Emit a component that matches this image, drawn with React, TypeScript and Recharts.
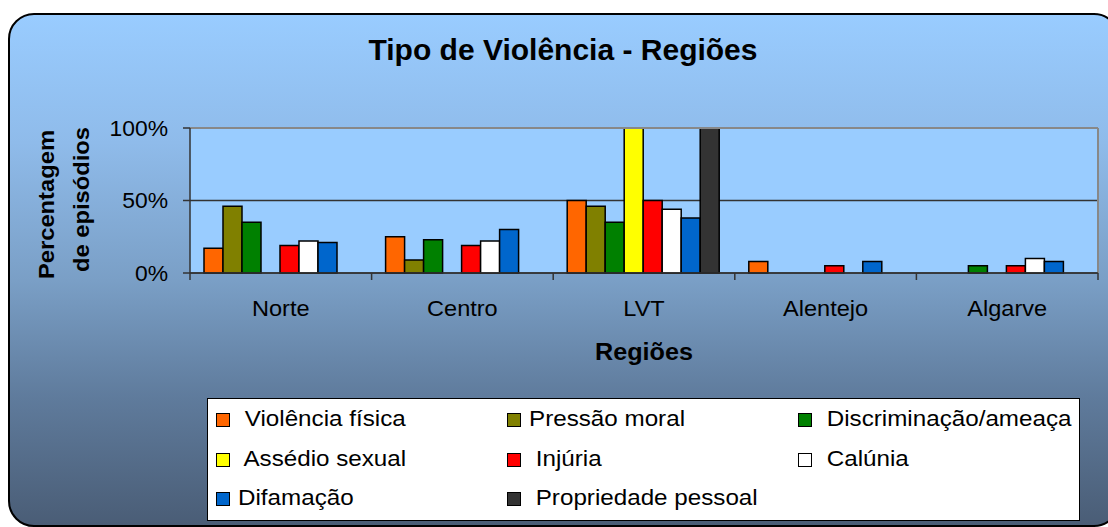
import { BarChart, Bar, XAxis, YAxis, CartesianGrid, ReferenceLine, Legend, Label } from 'recharts';

const REGIONS = ['Norte', 'Centro', 'LVT', 'Alentejo', 'Algarve'];

// share of episodes per region, one array per type of violence
const VIOLENCIA_FISICA = [0.17, 0.25, 0.5, 0.08, 0];
const PRESSAO_MORAL = [0.46, 0.09, 0.46, 0, 0];
const DISCRIMINACAO = [0.35, 0.23, 0.35, 0, 0.05];
const ASSEDIO_SEXUAL = [0, 0, 1, 0, 0];
const INJURIA = [0.19, 0.19, 0.5, 0.05, 0.05];
const CALUNIA = [0.22, 0.22, 0.44, 0, 0.1];
const DIFAMACAO = [0.21, 0.3, 0.38, 0.08, 0.08];
const PROPRIEDADE = [0, 0, 1, 0, 0];

const SERIES_KEYS = ['violencia', 'pressao', 'discriminacao', 'assedio', 'injuria', 'calunia', 'difamacao', 'propriedade'];
const SERIES_NAMES = [
  ' Violência física',
  'Pressão moral',
  ' Discriminação/ameaça',
  ' Assédio sexual',
  ' Injúria',
  ' Calúnia',
  'Difamação',
  ' Propriedade pessoal',
];
const SERIES_VALUES = [VIOLENCIA_FISICA, PRESSAO_MORAL, DISCRIMINACAO, ASSEDIO_SEXUAL, INJURIA, CALUNIA, DIFAMACAO, PROPRIEDADE];
const SERIES_COLORS = ['#ff6600', '#808000', '#008000', '#ffff00', '#ff0000', '#ffffff', '#0066cc', '#333333'];

const Y_TICKS = [0, 0.5, 1];

const FONT = '"Liberation Sans", Arial, sans-serif';

const chartData = REGIONS.map((region, i) => {
  const row: any = { region };
  SERIES_KEYS.forEach((key, s) => {
    row[key] = SERIES_VALUES[s][i];
  });
  return row;
});

// category labels, with the separator ticks between categories
function RegionTick({ x, y, payload }: any) {
  const half = payload?.offset ?? 0;
  const isLast = payload.value === REGIONS[REGIONS.length - 1];
  return (
    <g>
      <line x1={x - half} x2={x - half} y1={y} y2={y + 7} stroke="#333" strokeWidth={1.5} />
      {isLast && <line x1={x + half} x2={x + half} y1={y} y2={y + 7} stroke="#333" strokeWidth={1.5} />}
      <text
        transform={`translate(${x},${y + 43}) scale(1.07,1)`}
        textAnchor="middle"
        fontSize={22}
        fontFamily={FONT}
        fill="#000"
      >
        {payload.value}
      </text>
    </g>
  );
}

function PercentTick({ x, y, payload }: any) {
  return (
    <text
      transform={`translate(${x},${y}) scale(1.04,1)`}
      dy="0.355em"
      textAnchor="end"
      fontSize={22}
      fontFamily={FONT}
      fill="#000"
    >
      {Math.round(payload.value * 100)}%
    </text>
  );
}

function YTitle({ viewBox }: any) {
  const cy = viewBox.y + viewBox.height / 2;
  const x0 = viewBox.x;
  return (
    <g fontSize={22} fontWeight="bold" fontFamily={FONT} fill="#000">
      <text transform={`translate(${x0 + 54},${cy + 4}) rotate(-90) scale(1.08,1)`} textAnchor="middle">
        Percentagem
      </text>
      <text transform={`translate(${x0 + 89},${cy - 1}) rotate(-90) scale(1.08,1)`} textAnchor="middle">
        de episódios
      </text>
    </g>
  );
}

function XTitle({ viewBox }: any) {
  return (
    <text
      transform={`translate(${viewBox.x + viewBox.width / 2},${viewBox.y + 87}) scale(1.05,1)`}
      textAnchor="middle"
      fontSize={24}
      fontWeight="bold"
      fontFamily={FONT}
      fill="#000"
    >
      Regiões
    </text>
  );
}

function LegendBox() {
  return (
    <div
      style={{
        position: 'relative',
        width: 873,
        height: 123,
        boxSizing: 'border-box',
        border: '1px solid #000',
        background: '#fff',
        fontFamily: FONT,
        fontSize: 22,
        color: '#000',
      }}
    >
      {SERIES_NAMES.map((name, i) => {
        const col = i % 3;
        const row = Math.floor(i / 3);
        return (
          <div
            key={name}
            style={{
              position: 'absolute',
              left: 8 + col * 291,
              top: 21 + row * 39.5 - 11,
              height: 22,
              display: 'flex',
              alignItems: 'center',
              whiteSpace: 'pre',
              lineHeight: '22px',
            }}
          >
            <span
              style={{
                display: 'inline-block',
                width: 12,
                height: 12,
                border: '1.5px solid #000',
                background: SERIES_COLORS[i],
                marginRight: 8,
              }}
            />
            <span
              style={{
                display: 'inline-block',
                position: 'relative',
                top: -1,
                transform: 'scaleX(1.1)',
                transformOrigin: 'left center',
              }}
            >
              {name}
            </span>
          </div>
        );
      })}
    </div>
  );
}

export default function App() {
  return (
    <div style={{ position: 'absolute', left: 0, top: 0, width: 1108, height: 527, overflow: 'hidden' }}>
      <div
        style={{
          position: 'absolute',
          left: 8,
          top: 13,
          width: 1112,
          height: 514,
          boxSizing: 'border-box',
          border: '2px solid #000',
          borderRadius: 26,
          background: 'linear-gradient(180deg, #99ccff 0%, #8fbbea 25%, #7a9fc6 52%, #5f7b9c 75%, #4a5d76 100%)',
        }}
      />
      <div style={{ position: 'absolute', left: 0, top: 0 }}>
        <BarChart
          width={1108}
          height={527}
          data={chartData}
          margin={{ top: 128, right: 10, bottom: 0, left: 0 }}
          barCategoryGap={14}
          barGap={0}
        >
          <text x={563} y={60} textAnchor="middle" fontSize={30} fontWeight="bold" fontFamily={FONT} fill="#000">
            Tipo de Violência - Regiões
          </text>
          <CartesianGrid vertical={false} stroke="#333" strokeWidth={1.5} fill="#99ccff" fillOpacity={1} />
          <CartesianGrid
            horizontal={false}
            stroke="#888"
            strokeWidth={2}
            verticalCoordinatesGenerator={({ offset }: any) => [offset.left + offset.width]}
          />
          <ReferenceLine y={1} stroke="#888" strokeWidth={2} />
          <XAxis
            dataKey="region"
            height={254}
            tickSize={0}
            tickMargin={0}
            tickLine={false}
            axisLine={{ stroke: '#333', strokeWidth: 1.5 }}
            tick={<RegionTick />}
            interval={0}
          >
            <Label content={XTitle} />
          </XAxis>
          <YAxis
            width={190}
            domain={[0, 1]}
            ticks={Y_TICKS}
            tickSize={7}
            tickMargin={15}
            tickLine={{ stroke: '#333', strokeWidth: 1.5 }}
            axisLine={{ stroke: '#333', strokeWidth: 1.5 }}
            tick={<PercentTick />}
          >
            <Label content={YTitle} />
          </YAxis>
          {SERIES_KEYS.map((key, s) => (
            <Bar
              key={key}
              dataKey={key}
              name={SERIES_NAMES[s]}
              fill={SERIES_COLORS[s]}
              stroke="#000"
              strokeWidth={1.5}
              isAnimationActive={false}
            />
          ))}
          <Legend
            layout="vertical"
            align="center"
            verticalAlign="middle"
            wrapperStyle={{ left: 207, top: 398, width: 873, height: 123 }}
            content={<LegendBox />}
          />
        </BarChart>
      </div>
    </div>
  );
}
